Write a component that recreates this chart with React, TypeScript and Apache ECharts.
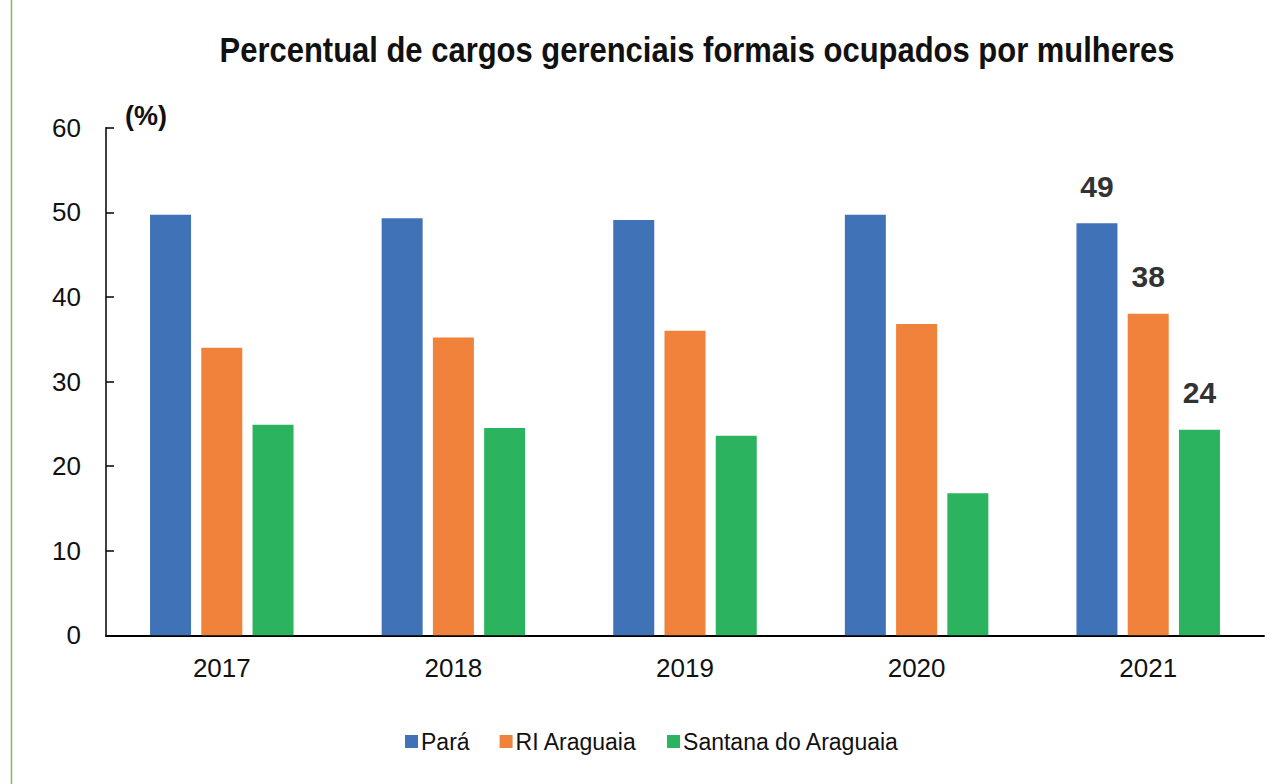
import React, { useEffect, useRef } from "react";
import * as echarts from "echarts";

const title = "Percentual de cargos gerenciais formais ocupados por mulheres";
const categories = ["2017", "2018", "2019", "2020", "2021"];
const seriesNames = ["Pará", "RI Araguaia", "Santana do Araguaia"];
const para = [49.7, 49.3, 49.1, 49.7, 48.7];
const riAraguaia = [34.0, 35.2, 36.0, 36.8, 38.0];
const santana = [24.9, 24.5, 23.6, 16.8, 24.3];
const colors = ["#4072B8", "#F0823B", "#2BB35F"];
const labeledIndex = 4;

const FONT = "'Liberation Sans', Arial, sans-serif";

export default function App() {
  const ref = useRef<HTMLDivElement>(null);
  useEffect(() => {
    if (!ref.current) return;
    const chart = echarts.init(ref.current, undefined, { renderer: "svg" });
    const mk = (vals: number[]) =>
      vals.map((v, i) => ({
        value: v,
        label: {
          show: i === labeledIndex,
          position: "top",
          distance: 22,
          formatter: (p: any) => String(Math.round(p.value)),
          fontFamily: FONT,
          fontWeight: "bold",
          fontSize: 30,
          color: "#333",
        },
      }));
    const allSeries = [para, riAraguaia, santana];
    chart.setOption({
      animation: false,
      backgroundColor: "#fff",
      grid: { left: 106, right: 8, top: 127.7, bottom: 148.7, containLabel: false },
      legend: {
        bottom: 26,
        left: 400,
        itemWidth: 13,
        itemHeight: 13,
        itemGap: 30,
        icon: "rect",
        textStyle: { fontFamily: FONT, fontSize: 23, color: "#111", padding: [0, 0, 0, -2] },
        data: seriesNames,
      },
      xAxis: {
        type: "category",
        data: categories,
        axisLine: { lineStyle: { color: "#000", width: 2 } },
        axisTick: { inside: true, length: 7, lineStyle: { color: "#000", width: 2 } },
        axisLabel: { fontFamily: FONT, fontSize: 26, color: "#111", margin: 20 },
      },
      yAxis: {
        type: "value",
        min: 0,
        max: 60,
        interval: 10,
        name: "(%)",
        nameLocation: "end",
        nameGap: -2,
        nameTextStyle: {
          fontFamily: FONT, fontWeight: "bold", fontSize: 27, color: "#111",
          align: "left", padding: [0, 0, 0, 19],
        },
        axisLine: { show: true, lineStyle: { color: "#000", width: 1.5 } },
        axisTick: { show: true, inside: true, length: 8, lineStyle: { color: "#000", width: 1.5 } },
        axisLabel: { fontFamily: FONT, fontSize: 26, color: "#111", margin: 25 },
        splitLine: { show: false },
      },
      series: allSeries.map((vals, k) => ({
        name: seriesNames[k],
        type: "bar",
        barWidth: 41,
        barGap: "25%",
        itemStyle: { color: colors[k] },
        data: mk(vals),
      })),
      graphic: [
        {
          type: "line",
          shape: { x1: 11.5, y1: 0, x2: 11.5, y2: 784 },
          style: { stroke: "#7CBF5A", lineWidth: 1.5 },
        },
        {
          type: "text",
          x: 697,
          y: 50,
          scaleX: 0.885,
          style: {
            text: title,
            font: "bold 35px 'Liberation Sans', Arial, sans-serif",
            fill: "#111",
            align: "center",
            verticalAlign: "middle",
          },
        },
      ],
    });
    return () => chart.dispose();
  }, []);
  return (
    <div
      ref={ref}
      style={{ position: "absolute", left: 0, top: 0, width: 1272, height: 784 }}
    />
  );
}
